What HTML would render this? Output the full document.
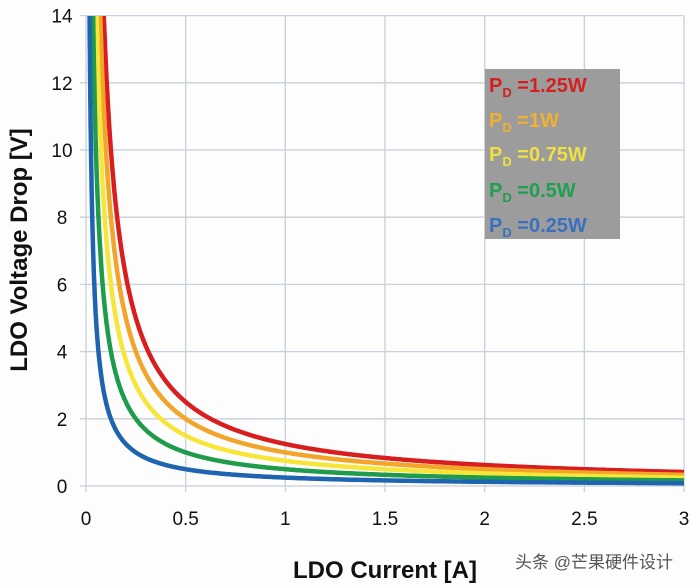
<!DOCTYPE html>
<html><head><meta charset="utf-8"><style>
body{margin:0;background:#fff;width:700px;height:588px;overflow:hidden}
svg{display:block;font-family:"Liberation Sans",sans-serif}
</style></head><body>
<svg id="s" width="700" height="588" xmlns="http://www.w3.org/2000/svg">
<rect width="700" height="588" fill="#fdfdfd"/>
<g id="grid" stroke="#c8d0d8" stroke-width="1.3"></g>
<g id="ticks" font-size="19" fill="#111" text-anchor="middle"></g>
<defs><clipPath id="c"><rect x="86" y="16" width="598" height="472"/></clipPath></defs>
<g id="curves" clip-path="url(#c)" fill="none" stroke-linejoin="round"></g>
<rect x="485" y="69" width="135" height="170" fill="#9c9c9c"/>
<g font-size="20" font-weight="bold">
<text x="489" y="92" fill="#d42020">P<tspan font-size="13" dy="5">D</tspan><tspan dy="-5"> =1.25W</tspan></text>
<text x="489" y="127" fill="#f0b030">P<tspan font-size="13" dy="5">D</tspan><tspan dy="-5"> =1W</tspan></text>
<text x="489" y="161" fill="#f0e040">P<tspan font-size="13" dy="5">D</tspan><tspan dy="-5"> =0.75W</tspan></text>
<text x="489" y="197" fill="#1fa050">P<tspan font-size="13" dy="5">D</tspan><tspan dy="-5"> =0.5W</tspan></text>
<text x="489" y="232" fill="#3a70c0">P<tspan font-size="13" dy="5">D</tspan><tspan dy="-5"> =0.25W</tspan></text>
</g>
<text x="385" y="578" font-size="24" font-weight="bold" text-anchor="middle" fill="#111">LDO Current [A]</text>
<text transform="translate(27,250) rotate(-90)" font-size="24" font-weight="bold" text-anchor="middle" fill="#111">LDO Voltage Drop [V]</text>
<text x="515" y="568" font-size="17" fill="#555" font-family="Liberation Sans,'Noto Sans CJK SC',sans-serif">头条 @芒果硬件设计</text>
</svg>
<script>
var X=v=>86+v*199.33,Y=v=>486-v*33.6;
var g=document.getElementById('grid'),t=document.getElementById('ticks'),c=document.getElementById('curves');
var h='',tt='';
for(var i=0;i<=6;i++){var x=X(i*0.5);h+='<line x1="'+x+'" y1="16" x2="'+x+'" y2="492"/>';tt+='<text x="'+x+'" y="525">'+(i*0.5)+'</text>';}
for(var j=0;j<=7;j++){var y=Y(j*2);h+='<line x1="80" y1="'+y+'" x2="684" y2="'+y+'"/>';tt+='<text x="62" y="'+(y+7)+'">'+(j*2)+'</text>';}
g.innerHTML=h;t.innerHTML=tt;
var S=[[1.25,'#d81e1e'],[1,'#f2a52a'],[0.75,'#f6e63a'],[0.5,'#1e9c4c'],[0.25,'#1e64b0']];
var out='';
S.forEach(function(s){var p=[];for(var k=0;k<=600;k++){var i=0.004+k*k/600/600*3;var v=s[0]/i;if(v>16)continue;p.push(X(i).toFixed(1)+','+Y(v).toFixed(1));}
out+='<polyline points="'+p.join(' ')+'" stroke="'+s[1]+'" stroke-width="4.5"/>';});
c.innerHTML=out;
</script>
</body></html>
